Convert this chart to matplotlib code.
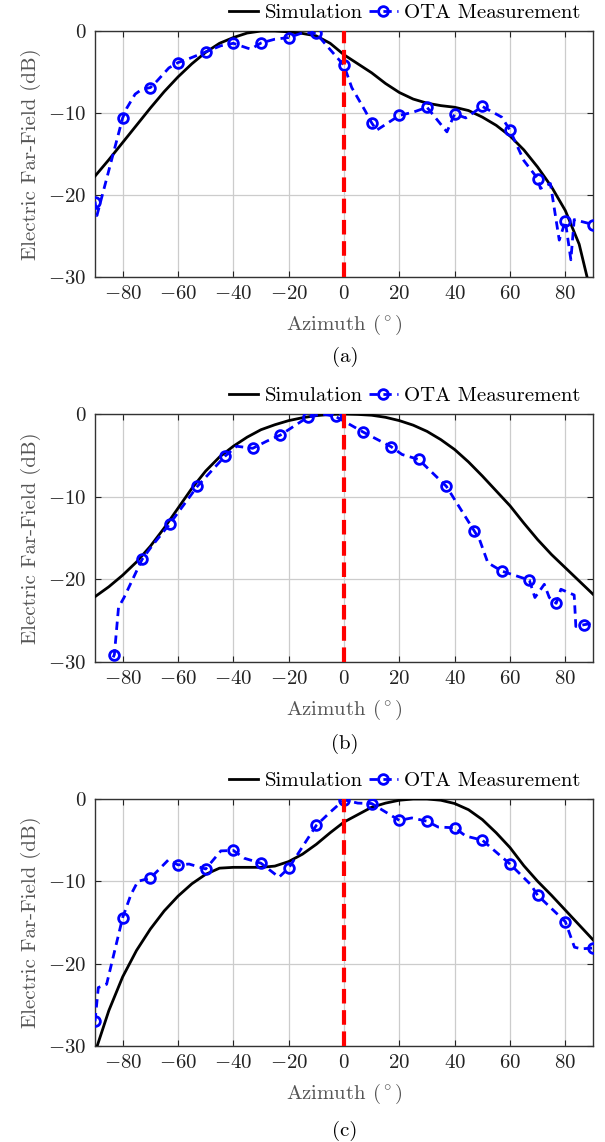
import matplotlib
matplotlib.use("Agg")
import matplotlib.pyplot as plt
import numpy as np

plt.rcParams['font.family'] = 'serif'
plt.rcParams['font.serif'] = ['cmr10']
plt.rcParams['mathtext.fontset'] = 'cm'
plt.rcParams['axes.unicode_minus'] = False
plt.rcParams['axes.formatter.use_mathtext'] = True

# ---------------- data ----------------
sim_x = [-90, -85, -80, -75, -70, -65, -60, -55, -50, -45, -40, -35, -30, -25, -20, -15, -10, -5,
         0, 5, 10, 15, 20, 25, 30, 35, 40, 45, 50, 55, 60, 65, 70, 75, 80, 85, 90]

# panel (a)
sim_a = [-17.7, -15.7, -13.6, -11.5, -9.4, -7.4, -5.6, -4.0, -2.6, -1.5, -0.8, -0.25, 0.0, 0.0, -0.1,
         -0.3, -0.6, -1.5, -2.9, -4.0, -5.1, -6.4, -7.5, -8.3, -8.8, -9.1, -9.3, -9.7, -10.5, -11.5,
         -12.8, -14.5, -16.6, -19.0, -21.9, -26.0, -33.0]
meas_a_x = [-90, -89.3, -80, -78.5, -75.5, -73, -70, -67.6, -63.3, -60, -56.6, -50, -44.5, -40,
            -34.8, -33.6, -30, -25, -20, -14.8, -10, -5.7, 0, 2.8, 7.6, 10, 11.8, 20, 25, 30, 37.2,
            40, 44, 50, 57, 60, 65, 70, 71, 74.6, 77.8, 80, 82, 83.2, 90]
meas_a_y = [-20.8, -22.5, -10.6, -9.4, -7.7, -7.1, -6.9, -6.1, -4.5, -3.85, -3.45, -2.55, -1.8, -1.5,
            -2.1, -2.2, -1.46, -1.0, -0.8, -0.2, -0.3, -2.0, -4.2, -6.9, -9.7, -11.2, -12.1, -10.3,
            -9.9, -9.3, -12.3, -10.1, -10.6, -9.2, -10.5, -12.1, -15.8, -18.0, -19.2, -18.6, -25.5,
            -23.2, -27.9, -23.0, -23.6]
marks_a = [-90, -80, -70, -60, -50, -40, -30, -20, -10, 0, 10, 20, 30, 40, 50, 60, 70, 80, 90]

# panel (b)
sim_b = [-22.1, -20.9, -19.5, -17.9, -16.0, -13.8, -11.4, -9.0, -6.9, -5.2, -3.9, -2.8, -1.9, -1.3,
         -0.8, -0.45, -0.2, -0.05, 0.0, -0.05, -0.15, -0.4, -0.8, -1.35, -2.1, -3.1, -4.3, -5.8,
         -7.5, -9.3, -11.1, -13.2, -15.2, -17.0, -18.6, -20.2, -21.8]
meas_b_x = [-85.3, -83, -81.5, -79.5, -73, -69.5, -63, -53, -43, -38.8, -33, -28, -23, -13, -8, -3,
            7, 17, 21, 27, 37, 47, 49, 52, 57, 67, 69, 72.4, 74.2, 76.7, 78.4, 83.2, 83.8, 86.6, 90]
meas_b_y = [-31.0, -29.1, -23.4, -22.2, -17.6, -16.0, -13.3, -8.75, -5.1, -3.9, -4.15, -3.3, -2.55,
            -0.36, 0.0, -0.3, -2.2, -3.95, -4.9, -5.5, -8.75, -14.1, -15.2, -18.0, -19.0, -20.1,
            -22.2, -20.6, -22.2, -22.9, -21.2, -21.9, -25.7, -25.5, -25.3]
marks_b = [-83, -73, -63, -53, -43, -33, -23, -13, -3, 7, 17, 27, 37, 47, 57, 67, 76.7, 86.6]

# panel (c)
sim_c = [-30.8, -25.7, -21.6, -18.4, -15.8, -13.6, -11.8, -10.3, -9.15, -8.4, -8.3, -8.3, -8.3,
         -8.15, -7.6, -6.7, -5.5, -4.1, -2.8, -1.9, -1.0, -0.5, -0.15, 0.0, 0.0, -0.15, -0.55,
         -1.3, -2.5, -4.1, -5.9, -8.1, -10.0, -11.7, -13.5, -15.3, -17.1]
meas_c_x = [-90, -88.8, -85.8, -80, -77, -74.5, -70, -67, -63.5, -60, -56, -50, -44.5, -40, -36, -30,
            -23.5, -20, -10, -5, 0, 5, 10, 20, 24.5, 30, 34, 40, 44, 50, 60, 67.5, 70, 80, 83.3,
            85.8, 90]
meas_c_y = [-27.0, -22.9, -22.5, -14.4, -11.6, -10.0, -9.6, -8.6, -7.4, -8.0, -7.9, -8.5, -6.3,
            -6.25, -7.2, -7.8, -9.5, -8.4, -3.2, -1.6, -0.1, -0.5, -0.55, -2.6, -2.3, -2.7, -3.4,
            -3.5, -4.5, -5.0, -7.9, -10.4, -11.7, -14.9, -18.0, -18.2, -18.1]
marks_c = [-90, -80, -70, -60, -50, -40, -30, -20, -10, 0, 10, 20, 30, 40, 50, 60, 70, 80, 90]

xticks = [-80, -60, -40, -20, 0, 20, 40, 60, 80]
yticks = [-30, -20, -10, 0]
panel_labels = ['(a)', '(b)', '(c)']
legend_labels = ['Simulation', 'OTA Measurement']

panels = [
    (sim_a, meas_a_x, meas_a_y, marks_a),
    (sim_b, meas_b_x, meas_b_y, marks_b),
    (sim_c, meas_c_x, meas_c_y, marks_c),
]

# ---------------- figure ----------------
W, H = 605, 1142
fig = plt.figure(figsize=(W / 100, H / 100), dpi=100)

ax_px = [(31, 277), (414, 662), (799, 1046)]
left_px, right_px = 95, 593
cap_y = [357, 744, 1131]

def fmt(v):
    return '$%d$' % v

for i, ((sim, mx, my, mk), (top, bot)) in enumerate(zip(panels, ax_px)):
    ax = fig.add_axes([left_px / W, 1 - bot / H, (right_px - left_px) / W, (bot - top) / H])
    ax.set_xlim(-90, 90)
    ax.set_ylim(-30, 0)
    ax.grid(True, color='#cccccc', lw=0.9)
    ax.set_axisbelow(True)
    l1, = ax.plot(sim_x, sim, color='black', lw=2.0, zorder=3)
    mev = [j for j, x in enumerate(mx) if x in mk]
    l2, = ax.plot(mx, my, color='#0000ff', lw=2.0, ls=(0, (3, 2)), marker='o', markevery=mev,
                  ms=7, mfc='none', mec='#0000ff', mew=2.0, zorder=4)
    ax.axvline(0, color='#ff0000', lw=3.0, ls=(0, (3.5, 1.6)), zorder=5)
    ax.set_xticks(xticks)
    ax.set_xticklabels([fmt(v) for v in xticks])
    ax.set_yticks(yticks)
    ax.set_yticklabels([fmt(v) for v in yticks])
    ax.tick_params(direction='in', length=4, width=0.8, top=True, right=True,
                   labelsize=15, colors='#222222', pad=6)
    for s in ax.spines.values():
        s.set_color('#333333')
        s.set_linewidth(1.0)
    ax.set_xlabel(r'Azimuth ($^\circ$)', fontsize=15, color='#555555', labelpad=7)
    ax.set_ylabel('Electric Far-Field (dB)', fontsize=15, color='#555555', labelpad=5)
    ax.legend([l1, l2], legend_labels, loc='center right',
              bbox_to_anchor=(0.975, 1 + 18 / (bot - top)), ncol=2, frameon=False,
              fontsize=15, handlelength=1.4, handletextpad=0.3, columnspacing=0.3,
              borderaxespad=0, borderpad=0, numpoints=1)
    fig.text(345 / W, 1 - cap_y[i] / H, panel_labels[i], ha='center', va='center', fontsize=15)

fig.savefig('out.png', dpi=100)
